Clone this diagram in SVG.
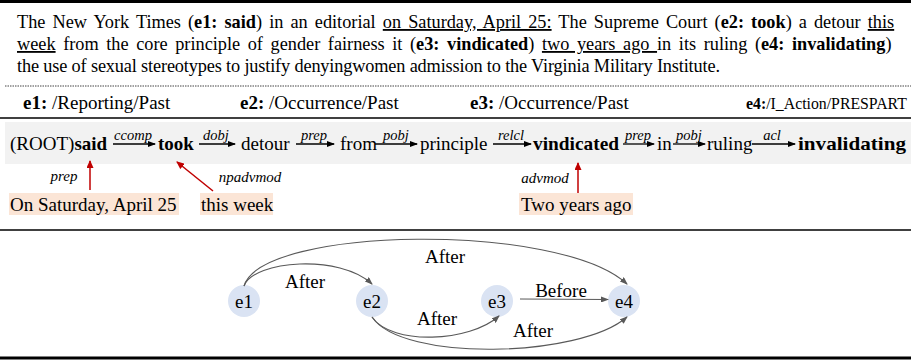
<svg xmlns="http://www.w3.org/2000/svg" width="911" height="361" viewBox="0 0 911 361">
<style>
text{font-family:'Liberation Serif','Times New Roman',serif;fill:#000}
.t{font-size:18.3px}
.w{font-size:19px}
.b{font-weight:bold}
.u{text-decoration:underline}
.dl{font-size:14.5px;font-style:italic;text-anchor:middle}
.rl{font-size:15px;font-style:italic;text-anchor:middle}
.dep{stroke:#000;stroke-width:1.3;fill:none}
.red{stroke:#c00000;stroke-width:1.5;fill:none}
.hl{fill:#fbe5d6}
.node circle{fill:#dae3f3}
.node text{font-size:19px;text-anchor:middle}
.edge{stroke:#595959;stroke-width:1.1;fill:none}
.el{font-size:19px;text-anchor:middle}
</style>
<defs>
<marker id="ab" markerUnits="userSpaceOnUse" markerWidth="8" markerHeight="6" refX="7" refY="3" orient="auto"><path d="M0,0 L8,3 L0,6 Z" fill="#000"/></marker>
<marker id="ar" markerUnits="userSpaceOnUse" markerWidth="8" markerHeight="7" refX="7" refY="3.5" orient="auto"><path d="M0,0 L8,3.5 L0,7 Z" fill="#c00000"/></marker>
<marker id="ag" markerUnits="userSpaceOnUse" markerWidth="8" markerHeight="6" refX="7" refY="3" orient="auto"><path d="M0,0 L8,3 L0,6 Z" fill="#595959"/></marker>
</defs>
<rect width="911" height="361" fill="#fff"/>
<rect x="0" y="0" width="911" height="3" fill="#000"/>
<line x1="5" y1="86" x2="911" y2="86" stroke="#444" stroke-width="1" stroke-dasharray="1.5,1"/>
<line x1="0" y1="118" x2="911" y2="118" stroke="#000" stroke-width="1.5"/>
<line x1="0" y1="230" x2="911" y2="230" stroke="#000" stroke-width="1.5"/>
<rect x="0" y="356.5" width="911" height="3" fill="#000"/>
<g id="sentence">
<text class="t" x="17" y="28" word-spacing="2.5">The New York Times (<tspan class="b">e1: said</tspan>) in an editorial <tspan class="u">on Saturday, April 25:</tspan> The Supreme Court (<tspan class="b">e2: took</tspan>) a detour <tspan class="u">this</tspan></text>
<text class="t" x="17" y="50" word-spacing="3"><tspan class="u">week</tspan> from the core principle of gender fairness it (<tspan class="b">e3: vindicated</tspan>) <tspan class="u">two years ago </tspan>in its ruling (<tspan class="b">e4: invalidating</tspan>)</text>
<text class="t" x="17" y="72" textLength="703" lengthAdjust="spacing">the use of sexual stereotypes to justify denyingwomen admission to the Virginia Military Institute.</text>
</g>
<g id="event-types">
<text class="w" x="23" y="109"><tspan class="b">e1:</tspan> /Reporting/Past</text>
<text class="w" x="240" y="109"><tspan class="b">e2:</tspan> /Occurrence/Past</text>
<text class="w" x="470" y="109"><tspan class="b">e3:</tspan> /Occurrence/Past</text>
<text x="746" y="109" font-size="15.8"><tspan class="b">e4:</tspan>/I_Action/PRESPART</text>
</g>
<rect x="5" y="122" width="906" height="42" fill="#f2f2f2"/>
<g id="dep-words">
<text class="w" x="10" y="150">(ROOT)<tspan class="b">said</tspan></text>
<text class="w b" x="158" y="150">took</text>
<text class="w" x="241" y="150">detour</text>
<text class="w" x="340" y="150">from</text>
<text class="w" x="420" y="150">principle</text>
<text class="w b" x="533" y="150" textLength="86" lengthAdjust="spacingAndGlyphs">vindicated</text>
<text class="w" x="657" y="150">in</text>
<text class="w" x="707" y="150">ruling</text>
<text class="w b" x="798" y="150" textLength="108" lengthAdjust="spacingAndGlyphs">invalidating</text>
</g>
<g id="dep-arcs">
<line class="dep" x1="113" y1="144" x2="155" y2="144" marker-end="url(#ab)"/>
<line class="dep" x1="199" y1="144" x2="235" y2="144" marker-end="url(#ab)"/>
<line class="dep" x1="296" y1="144" x2="334" y2="144" marker-end="url(#ab)"/>
<line class="dep" x1="375" y1="144" x2="417" y2="144" marker-end="url(#ab)"/>
<line class="dep" x1="493" y1="144" x2="531" y2="144" marker-end="url(#ab)"/>
<line class="dep" x1="623" y1="144" x2="654" y2="144" marker-end="url(#ab)"/>
<line class="dep" x1="673" y1="144" x2="705" y2="144" marker-end="url(#ab)"/>
<line class="dep" x1="752" y1="144" x2="795" y2="144" marker-end="url(#ab)"/>
<text class="dl" x="133" y="140">ccomp</text>
<text class="dl" x="216" y="140">dobj</text>
<text class="dl" x="314" y="140">prep</text>
<text class="dl" x="396" y="140">pobj</text>
<text class="dl" x="511" y="140">relcl</text>
<text class="dl" x="638" y="140">prep</text>
<text class="dl" x="689" y="140">pobj</text>
<text class="dl" x="772" y="140">acl</text>
</g>
<g id="modifiers">
<rect class="hl" x="9" y="193" width="170" height="22"/>
<text class="w" x="10" y="211">On Saturday, April 25</text>
<rect class="hl" x="200" y="193" width="73" height="22"/>
<text class="w" x="201" y="211">this week</text>
<rect class="hl" x="519" y="193" width="114" height="22"/>
<text class="w" x="521" y="211">Two years ago</text>
<line class="red" x1="90" y1="190" x2="90" y2="161" marker-end="url(#ar)"/>
<line class="red" x1="213" y1="191" x2="177" y2="162" marker-end="url(#ar)"/>
<line class="red" x1="578" y1="193" x2="578" y2="163" marker-end="url(#ar)"/>
<text class="rl" x="64" y="181">prep</text>
<text class="rl" x="250" y="182">npadvmod</text>
<text class="rl" x="545" y="183">advmod</text>
</g>
<g id="node-e1" class="node"><circle cx="244" cy="301" r="16"/><text x="244" y="308">e1</text></g>
<g id="node-e2" class="node"><circle cx="372" cy="301" r="16"/><text x="372" y="308">e2</text></g>
<g id="node-e3" class="node"><circle cx="497" cy="301" r="16"/><text x="497" y="308">e3</text></g>
<g id="node-e4" class="node"><circle cx="624" cy="301" r="16"/><text x="624" y="308">e4</text></g>
<g id="edges">
<path class="edge" d="M244,286 C254,260 340,254 372,284" marker-end="url(#ag)"/>
<path class="edge" d="M244,286 C262,226 560,222 627,284" marker-end="url(#ag)"/>
<path class="edge" d="M520,299 L608,299.5" marker-end="url(#ag)"/>
<path class="edge" d="M372,317 C392,346 470,342 499,316" marker-end="url(#ag)"/>
<path class="edge" d="M372,317 C402,362 580,358 627,317" marker-end="url(#ag)"/>
<text class="el" x="305" y="288">After</text>
<text class="el" x="445" y="263">After</text>
<text class="el" x="561" y="297">Before</text>
<text class="el" x="437" y="325">After</text>
<text class="el" x="533" y="337">After</text>
</g>
</svg>
